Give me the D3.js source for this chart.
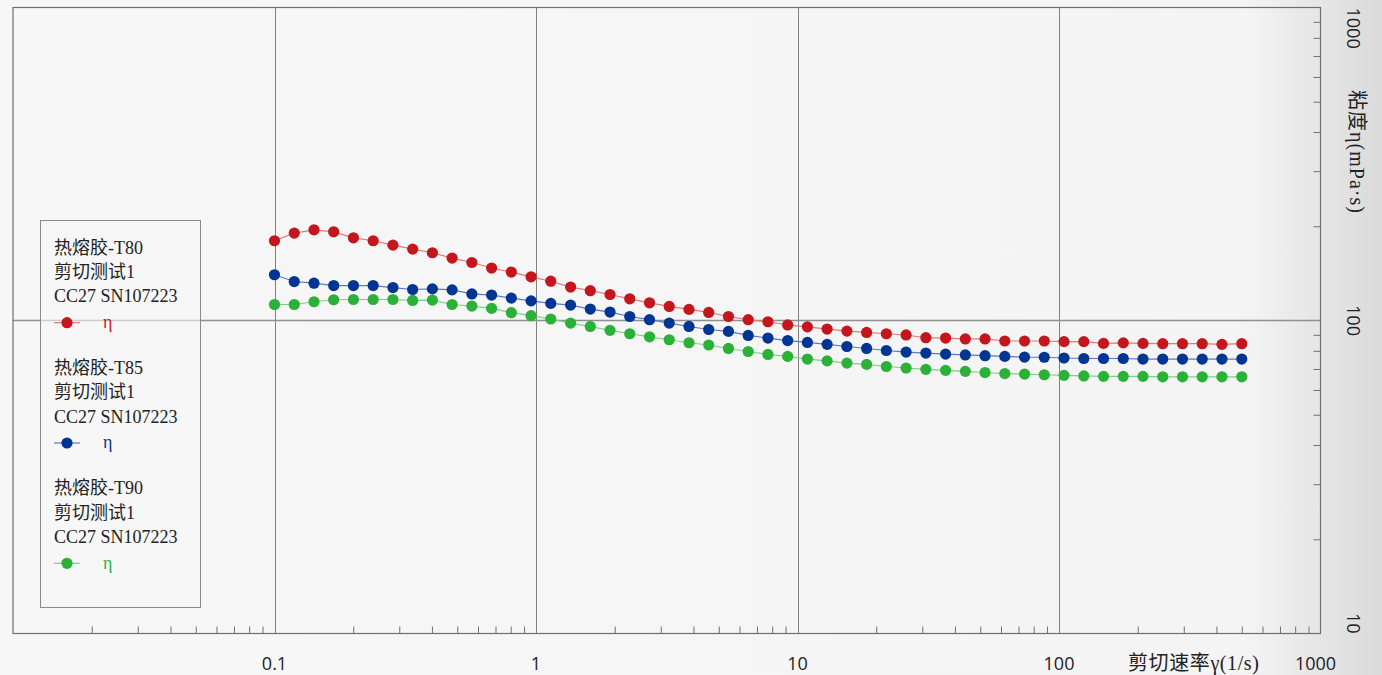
<!DOCTYPE html>
<html>
<head>
<meta charset="utf-8">
<script src="https://cdn.jsdelivr.net/npm/d3@7"></script>
<style>
  html, body { margin: 0; padding: 0; background: #f6f6f6; }
  svg { display: block; }
</style>
</head>
<body>
<svg id="chart" width="1382" height="675"></svg>
<script>
/* ── Data ──────────────────────────────────────────────────────── */
const shearRate = [0.1, 0.119, 0.1416, 0.1684, 0.2004, 0.2384, 0.2837, 0.3375, 0.4016, 0.4778,
  0.5685, 0.6764, 0.8048, 0.9576, 1.139, 1.356, 1.613, 1.919, 2.283, 2.717,
  3.232, 3.846, 4.576, 5.445, 6.478, 7.708, 9.171, 10.91, 12.98, 15.45,
  18.38, 21.87, 26.02, 30.96, 36.84, 43.83, 52.15, 62.05, 73.83, 87.84,
  104.5, 124.4, 148, 176.1, 209.5, 249.3, 296.6, 352.9, 419.9, 500];

const etaT80 = [179.8, 190.2, 194.9, 192.0, 183.7, 179.8, 174.1, 169.1, 164.6, 158.3,
  153.2, 147.1, 142.8, 137.9, 133.5, 127.9, 124.5, 121.1, 117.3, 113.9,
  110.9, 108.5, 106.1, 103.0, 100.6, 99.1, 96.8, 95.4, 93.9, 92.5,
  91.6, 90.7, 89.9, 88.1, 87.9, 87.3, 87.3, 86.0, 86.0, 86.0,
  85.6, 85.6, 84.5, 84.8, 84.5, 84.3, 84.3, 84.3, 83.9, 84.3];

const etaT85 = [140.0, 133.2, 131.6, 129.3, 129.3, 129.3, 127.4, 125.6, 126.2, 125.3,
  121.6, 120.6, 117.9, 115.5, 113.4, 112.0, 108.8, 106.4, 103.0, 100.6,
  98.1, 95.7, 93.6, 92.3, 89.6, 87.9, 86.3, 85.1, 83.9, 82.6,
  81.4, 80.2, 79.3, 78.7, 78.1, 77.6, 77.2, 76.8, 76.4, 76.3,
  75.9, 75.6, 75.6, 75.6, 75.3, 75.3, 75.3, 75.3, 75.3, 75.3];

const etaT90 = [112.5, 112.5, 114.8, 116.5, 116.7, 116.7, 116.7, 115.9, 116.2, 112.5,
  111.2, 109.3, 105.9, 103.6, 101.1, 98.1, 95.7, 93.0, 90.7, 88.7,
  86.8, 84.9, 83.5, 81.4, 79.6, 77.9, 76.8, 75.3, 74.3, 73.1,
  72.4, 71.3, 70.5, 69.8, 69.3, 68.8, 68.2, 67.7, 67.4, 67.1,
  66.8, 66.5, 66.3, 66.3, 66.3, 66.1, 66.1, 66.1, 66.1, 66.1];

const seriesNames = ['热熔胶-T80', '热熔胶-T85', '热熔胶-T90'];
const seriesSub   = ['剪切测试1', 'CC27 SN107223'];
const seriesTag   = 'η';

const xMajor  = [0.1, 1, 10, 100];
const xLabels = ['0.1', '1', '10', '100', '1000'];
const yLabels = ['1000', '100', '10'];
const xTitle  = '剪切速率γ(1/s)';
const yTitle  = '粘度η(mPa·s)';

/* ── Setup ─────────────────────────────────────────────────────── */
const svg = d3.select('#chart');
const L = 13, R = 1320.5, T = 7.5, B = 633.5;

const x = d3.scaleLog().domain([0.01, 1000]).range([L, R]);
const y = d3.scaleLog().domain([10, 1000]).range([B, T]);

const SERIF = '"Liberation Serif", "DejaVu Serif", "Noto Sans CJK SC", serif';
const SANS  = '"Open Sans", "Noto Sans", sans-serif';

// background with the grey fade on the right
const defs = svg.append('defs');
const grad = defs.append('linearGradient').attr('id', 'bg').attr('x1', 0).attr('x2', 1).attr('y1', 0).attr('y2', 0);
grad.append('stop').attr('offset', '0').attr('stop-color', '#f7f7f7');
grad.append('stop').attr('offset', '0.9').attr('stop-color', '#f4f4f4');
grad.append('stop').attr('offset', '1').attr('stop-color', '#dadada');
svg.append('rect').attr('width', 1382).attr('height', 675).attr('fill', 'url(#bg)');

/* ── Grid + axes ───────────────────────────────────────────────── */
const xMinor = [], yMinor = [];
[0.01, 0.1, 1, 10, 100].forEach(d => { for (let k = 2; k <= 9; k++) xMinor.push(d * k); });
[10, 100].forEach(d => { for (let k = 2; k <= 9; k++) yMinor.push(d * k); });

const grid = svg.append('g');
grid.selectAll('line.vx').data(xMajor).join('line')
  .attr('x1', d => Math.round(x(d)) + 0.5).attr('x2', d => Math.round(x(d)) + 0.5)
  .attr('y1', T).attr('y2', B)
  .attr('stroke', '#808080').attr('stroke-width', 1);
grid.append('line')
  .attr('x1', L).attr('x2', R).attr('y1', y(100)).attr('y2', y(100))
  .attr('stroke', '#909090').attr('stroke-width', 1.4);

// bottom minor ticks (inward)
const xAxis = svg.append('g').attr('transform', `translate(0,${B})`)
  .call(d3.axisBottom(x).tickValues(xMinor).tickSize(-7).tickFormat(''));
xAxis.select('.domain').remove();
xAxis.selectAll('line').attr('stroke', '#707070');

// right minor ticks (inward)
const yAxis = svg.append('g').attr('transform', `translate(${R},0)`)
  .call(d3.axisRight(y).tickValues(yMinor).tickSize(-7).tickFormat(''));
yAxis.select('.domain').remove();
yAxis.selectAll('line').attr('stroke', '#707070');

// frame
svg.append('rect')
  .attr('x', L).attr('y', T).attr('width', R - L).attr('height', B - T)
  .attr('fill', 'none').attr('stroke', '#6e6e6e').attr('stroke-width', 1.2);

// bottom labels
const xLabVals = [0.1, 1, 10, 100, 1000];
svg.append('g').selectAll('text').data(xLabVals).join('text')
  .attr('x', (d, i) => x(d) - (i === 4 ? 5 : 0))
  .attr('y', 669.5)
  .attr('text-anchor', 'middle')
  .attr('font-family', SANS).attr('font-size', 18).attr('fill', '#222')
  .text((d, i) => xLabels[i]);

svg.append('text')
  .attr('x', 1128).attr('y', 670)
  .attr('font-family', SERIF).attr('font-size', 20).attr('fill', '#222')
  .attr('letter-spacing', 0.6)
  .text(xTitle);

// right labels, rotated
const yLabVals = [1000, 100, 10];
const yAnchor  = ['start', 'middle', 'end'];
svg.append('g').selectAll('text').data(yLabVals).join('text')
  .attr('transform', d => `translate(1347,${y(d)}) rotate(90)`)
  .attr('text-anchor', (d, i) => yAnchor[i])
  .attr('font-family', SANS).attr('font-size', 18).attr('fill', '#222')
  .text((d, i) => yLabels[i]);

svg.append('text')
  .attr('transform', 'translate(1350,152) rotate(90)')
  .attr('text-anchor', 'middle')
  .attr('font-family', SERIF).attr('font-size', 20).attr('fill', '#222')
  .attr('letter-spacing', 1)
  .text(yTitle);

/* ── Series ────────────────────────────────────────────────────── */
const series = [
  { values: etaT80, dot: '#c5161d', line: '#e07a76' },
  { values: etaT85, dot: '#003594', line: '#5a78c4' },
  { values: etaT90, dot: '#2bb038', line: '#80cf86' },
];

const line = d3.line().x((d, i) => x(shearRate[i])).y(d => y(d));
const plot = svg.append('g');
series.forEach(s => {
  plot.append('path').datum(s.values)
    .attr('d', line).attr('fill', 'none')
    .attr('stroke', s.line).attr('stroke-width', 1.2);
  plot.append('g').selectAll('circle').data(s.values).join('circle')
    .attr('cx', (d, i) => x(shearRate[i]))
    .attr('cy', d => y(d))
    .attr('r', 5.6)
    .attr('fill', s.dot);
});

/* ── Legend ────────────────────────────────────────────────────── */
const lg = svg.append('g');
lg.append('rect')
  .attr('x', 40.5).attr('y', 220.5).attr('width', 160).attr('height', 387)
  .attr('fill', '#f6f6f6').attr('fill-opacity', 0.6)
  .attr('stroke', '#8a8a8a').attr('stroke-width', 1);

series.forEach((s, g) => {
  const top = 247.5 + g * 120.3;
  [seriesNames[g], ...seriesSub].forEach((t, i) => {
    lg.append('text')
      .attr('x', 54).attr('y', top + i * 24.3).attr('dy', '0.35em')
      .attr('font-family', SERIF).attr('font-size', 18).attr('fill', '#222')
      .text(t);
  });
  const my = top + 75.2;
  lg.append('line').attr('x1', 54).attr('x2', 80).attr('y1', my).attr('y2', my)
    .attr('stroke', s.line).attr('stroke-width', 1.2);
  lg.append('circle').attr('cx', 67).attr('cy', my).attr('r', 5.6).attr('fill', s.dot);
  lg.append('text')
    .attr('x', 103).attr('y', my).attr('dy', '0.3em')
    .attr('font-family', SERIF).attr('font-size', 18).attr('fill', s.dot)
    .text(seriesTag);
});
</script>
</body>
</html>
